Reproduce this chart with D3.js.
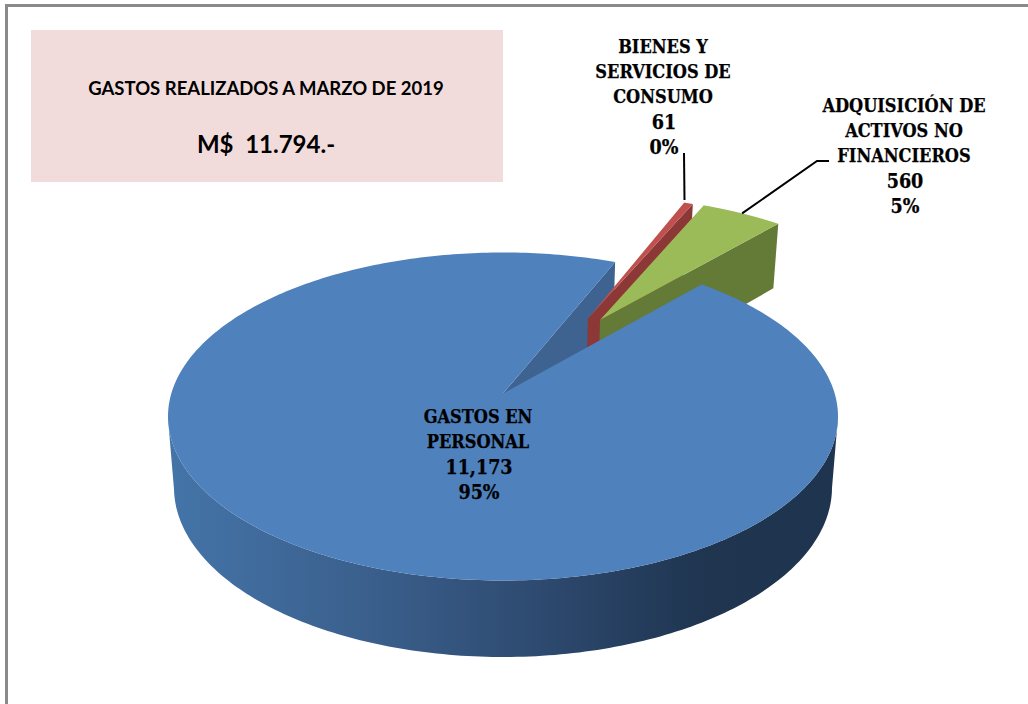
<!DOCTYPE html>
<html><head><meta charset="utf-8">
<style>html,body{margin:0;padding:0;background:#fff}svg{display:block}</style>
<script src="https://cdn.jsdelivr.net/npm/d3@7/dist/d3.min.js"></script></head>
<body><div id="c"></div>
<script>
const categories = ["GASTOS EN PERSONAL","BIENES Y SERVICIOS DE CONSUMO","ADQUISICIÓN DE ACTIVOS NO FINANCIEROS"];
const values = [11173, 61, 560];
const percentLabels = ["95%","0%","5%"];
const valueLabels = ["11,173","61","560"];
const topColors = ["#4f81bd","#c0504d","#9bbb59"];
const wallColors = ["#3e6390","#8c3836","#647a37"];
const explodeRadius = [0, 0.57, 0.58];
const explodeBearing = [0, 28.7, 32.6];
const boxTitle = "GASTOS REALIZADOS A MARZO DE 2019";
const boxTotal = "M$  11.794.-";

const W = 1028, H = 704;
const svg = d3.select("#c").append("svg").attr("width",W).attr("height",H);
const defs = svg.append("defs");
const grad = defs.append("linearGradient").attr("id","side").attr("gradientUnits","userSpaceOnUse")
  .attr("x1",170).attr("x2",838).attr("y1",0).attr("y2",0);
[[0,"#4474a8"],[0.3,"#3a5f8c"],[0.55,"#2e4a70"],[0.8,"#1f3550"],[1,"#1f344e"]].forEach(s=>
  grad.append("stop").attr("offset",s[0]).attr("stop-color",s[1]));

// Frame
svg.append("path").attr("d",`M6.5 ${H}V5.5H${W}`).attr("fill","none").attr("stroke","#8a8a8a").attr("stroke-width",3);

// Summary box
svg.append("rect").attr("x",31).attr("y",30).attr("width",472).attr("height",152).attr("fill","#f2dcdb");
svg.append("text").attr("x",266).attr("y",95).attr("text-anchor","middle")
  .attr("font-family","Lato").attr("font-weight",700).attr("font-size",18.5).attr("fill","#000").text(boxTitle);
svg.append("text").attr("x",266).attr("y",153).attr("text-anchor","middle").attr("xml:space","preserve")
  .style("white-space","pre").attr("font-family","Lato").attr("font-weight",700).attr("font-size",24).attr("fill","#000").text(boxTotal);

// Pie geometry: true-plane unit disk, projected with a perspective homography
const pie = d3.pie().sort(null).value(d=>d).startAngle(41.4*Math.PI/180).endAngle((41.4+360)*Math.PI/180)(values);
const k = 0.14, q = Math.sqrt(1-k*k), cx = 503, N = 360;
const topPlane = {rx:335, ry:164, cy:416.5}, botPlane = {rx:329, ry:169.5, cy:487.5};
function project(u,v,p){
  const d = 1+k*v;
  return [cx + p.rx*u*q/d, p.cy - p.ry*(v+k)/d];
}
const line = d3.line();
const rad = d=>d*Math.PI/180;
function slice(i){
  const b = rad(explodeBearing[i]), e = explodeRadius[i];
  const o = [e*Math.sin(b), e*Math.cos(b)];
  const a0 = pie[i].startAngle, a1 = pie[i].endAngle;
  const rim = d3.range(0,N+1).map(j=>{
    const a = a0+(a1-a0)*j/N;
    return [o[0]+Math.sin(a), o[1]+Math.cos(a)];
  });
  const P = (pt,pl)=>project(pt[0],pt[1],pl);
  return {o, rim, P};
}
const g = svg.append("g");
function poly(pts,fill){ return g.append("path").attr("d",line(pts)+"Z").attr("fill",fill); }
function endWall(s,i){ const pt=s.rim[N]; poly([s.P(s.o,topPlane),s.P(pt,topPlane),s.P(pt,botPlane),s.P(s.o,botPlane)],wallColors[i]); }
function topFace(s,i){ poly([s.P(s.o,topPlane),...s.rim.map(r=>s.P(r,topPlane))],topColors[i]); }

const s0 = slice(0), s1 = slice(1), s2 = slice(2);
// blue cut wall seen through the gap
endWall(s0,0);
// red
endWall(s1,1);
topFace(s1,1);
// green
endWall(s2,2);
topFace(s2,2);
// blue outer wall (front half only) and top
const frontRim = s0.rim.filter(r=>r[1] <= -k);
poly([...frontRim.map(r=>s0.P(r,topPlane)),...frontRim.slice().reverse().map(r=>s0.P(r,botPlane))],"url(#side)");
topFace(s0,0);

// Leaders
const rimMid = i=>{const s=slice(i);return s.P(s.rim[N/2],topPlane);};
const lead = (pts)=>svg.append("path").attr("d",line(pts)).attr("fill","none").attr("stroke","#000").attr("stroke-width",2);
lead([[684.5,200],[684,153]]);
lead([rimMid(2),[817,161],[829,161]]);

// Labels
const labelLines = [
  ["GASTOS EN","PERSONAL"],["BIENES Y","SERVICIOS DE","CONSUMO"],["ADQUISICIÓN DE","ACTIVOS NO","FINANCIEROS"]];
const labelPos = [[478,423],[663,53],[904,112]];
labelLines.forEach((ls,i)=>{
  const t = svg.append("text").attr("font-family","'DejaVu Serif Condensed','DejaVu Serif'").attr("font-weight",700)
    .attr("font-size",18).attr("fill","#000").attr("stroke","#000").attr("stroke-width",0.25).attr("text-anchor","middle");
  ls.forEach((s,j)=>{
    t.append("tspan").attr("x",labelPos[i][0]).attr("y",labelPos[i][1]+j*25.2).text(s);
  });
  [valueLabels[i],percentLabels[i]].forEach((s,j)=>{
    t.append("tspan").attr("x",labelPos[i][0]+(i===1?1:1)).attr("y",labelPos[i][1]+(ls.length+j)*25.2+0.5).attr("font-size",19.5).text(s);
  });
});
</script></body></html>
